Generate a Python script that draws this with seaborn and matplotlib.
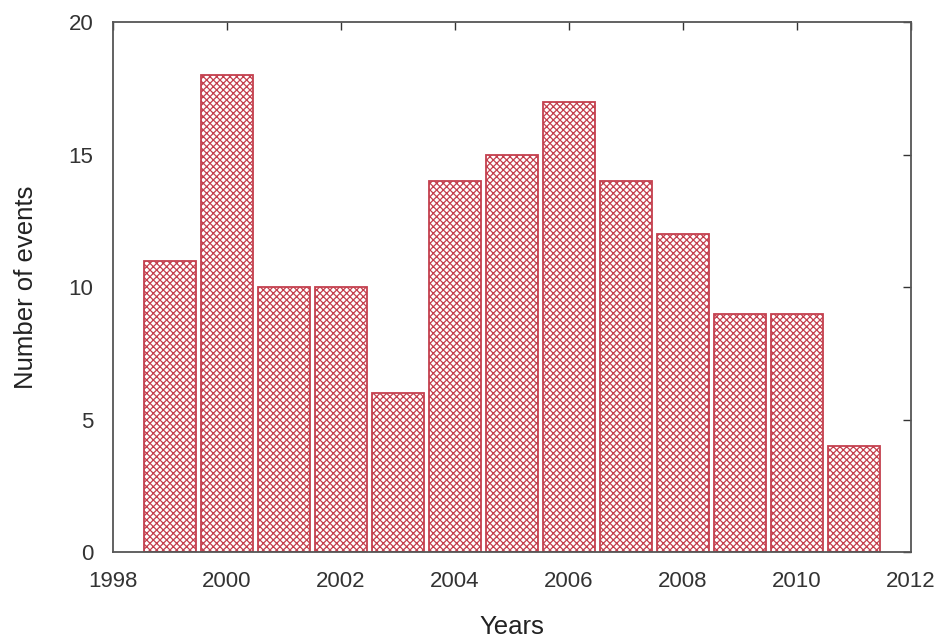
import pandas as pd
import numpy as np
import matplotlib.pyplot as plt
import seaborn as sns

years = [1999, 2000, 2001, 2002, 2003, 2004, 2005, 2006, 2007, 2008, 2009, 2010, 2011]
events = [11, 18, 10, 10, 6, 14, 15, 17, 14, 12, 9, 9, 4]

df = pd.DataFrame({'Years': years, 'Number of events': events})

sns.set_style('white')
plt.rcParams['font.family'] = ['Liberation Sans', 'DejaVu Sans']
plt.rcParams['hatch.linewidth'] = 0.9

fig = plt.figure(figsize=(9.41, 6.4), dpi=100)
ax = fig.add_axes([0.120, 0.1375, 0.848, 0.828])

sns.barplot(data=df, x='Years', y='Number of events', native_scale=True,
            width=0.9, color='white', edgecolor='#c4404e', linewidth=1.3, ax=ax)
for p in ax.patches:
    p.set_hatch('xxxxx')

ax.set_xlim(1998, 2012)
ax.set_ylim(0, 20)
ax.set_xticks(range(1998, 2013, 2))
ax.set_yticks(range(0, 21, 5))
ax.tick_params(direction='in', length=6, width=1, top=True, right=True,
               labelsize=16, colors='#333333')
ax.tick_params(axis='x', labeltop=False, pad=14)
ax.tick_params(axis='y', pad=14)
for s in ax.spines.values():
    s.set_color('#555555')
    s.set_linewidth(1.3)
ax.set_xlabel('Years', fontsize=18.5, labelpad=16, color='#222222')
ax.set_ylabel('Number of events', fontsize=18.5, labelpad=22, color='#222222')

fig.savefig('out.png', dpi=100)
